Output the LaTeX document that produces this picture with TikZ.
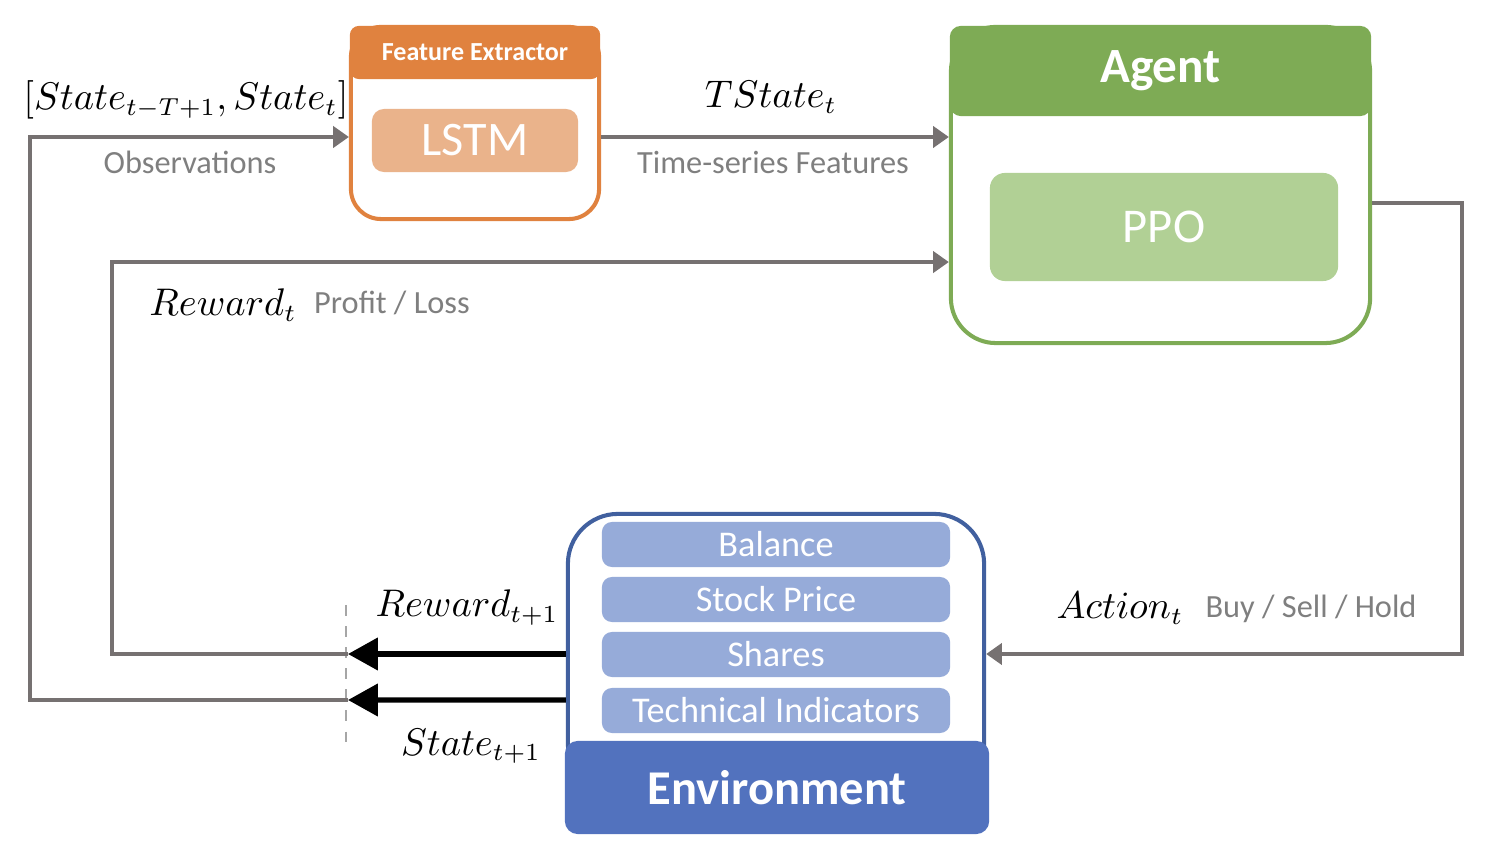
\documentclass[tikz,border=0pt]{standalone}
\usepackage{fontspec}
\setmainfont{Carlito}
\usetikzlibrary{arrows.meta}
\definecolor{feor}{HTML}{E0823F}
\definecolor{lstmc}{HTML}{EAB38B}
\definecolor{agg}{HTML}{7EAB55}
\definecolor{ppoc}{HTML}{B1D095}
\definecolor{envb}{HTML}{5272BE}
\definecolor{envd}{HTML}{41609F}
\definecolor{itemc}{HTML}{96ABD9}
\definecolor{linec}{HTML}{767171}
\definecolor{txtg}{HTML}{7F7F7F}
\begin{document}
\begin{tikzpicture}[x=0.01cm,y=-0.01cm,
  container/.style={draw, line width=1.15pt, fill=white, inner sep=0pt},
  headbox/.style={fill=#1, draw=#1, line width=0.6pt, inner sep=0pt, text=white, font=\bfseries},
  innerbox/.style={fill=#1, inner sep=0pt, text=white},
  garrow/.style={draw=linec, line width=1.15pt, -{Triangle[length=4.5pt,width=6pt]}},
  barrow/.style={draw=black, line width=1.5pt, -{Triangle[length=8.5pt,width=9pt]}},
  glbl/.style={anchor=base, inner sep=0pt, text=txtg, font=\fontsize{9.2}{11}\selectfont},
  mlbl/.style={anchor=base, inner sep=0pt, font=\fontsize{10.6}{13}\selectfont},
  itembox/.style={innerbox=itemc, minimum width=3.48cm, minimum height=0.45cm, rounded corners=1mm, font=\fontsize{10.3}{12}\selectfont}
]
\useasboundingbox (0,0) rectangle (1498,862);

% Feature extractor
\node[container, draw=feor, minimum width=2.48cm, minimum height=1.92cm, rounded corners=3mm] (febox) at (475,123) {};
\node[headbox=feor, minimum width=2.48cm, minimum height=0.51cm, rounded corners=0.8mm, font=\bfseries\fontsize{7.4}{9}\selectfont] (fehead) at (475,52.5) {Feature Extractor};
\node[innerbox=lstmc, minimum width=2.06cm, minimum height=0.63cm, rounded corners=1.2mm, font=\fontsize{13.7}{16}\selectfont] (lstm) at (475,140.5) {LSTM};

% Agent
\node[container, draw=agg, minimum width=4.19cm, minimum height=3.16cm, rounded corners=4.5mm] (agbox) at (1160.5,185) {};
\node[headbox=agg, minimum width=4.19cm, minimum height=0.88cm, rounded corners=1mm, font=\bfseries\fontsize{14}{16}\selectfont] (aghead) at (1160.5,71) {Agent};
\node[innerbox=ppoc, minimum width=3.48cm, minimum height=1.08cm, rounded corners=1.5mm, font=\fontsize{13.8}{16}\selectfont] (ppo) at (1164,227) {PPO};

% Environment
\node[container, draw=envd, minimum width=4.16cm, minimum height=2.8cm, rounded corners=5mm] (envbox) at (776,654) {};
\node[itembox] (bal) at (776,544.5) {Balance};
\node[itembox] (stock) at (776,599.5) {Stock Price};
\node[itembox] (shares) at (776,654.5) {Shares};
\node[itembox] (tech) at (776,710.5) {Technical Indicators};
\node[headbox=envb, minimum width=4.22cm, minimum height=0.91cm, rounded corners=1.2mm, font=\bfseries\fontsize{13.8}{16}\selectfont] (envlabel) at (777,787.5) {Environment};

% junctions and dashed line
\coordinate (jR) at (348,654);
\coordinate (jS) at (348,700);
\coordinate (dtop) at (346,605);
\coordinate (dbot) at (346,748);
\draw[dashed, draw=gray!70, line width=0.8pt] (dtop) -- (dbot);

% connectors
\draw[garrow] (jS) -| (30,400) |- ([yshift=-0.14cm]febox.west);
\draw[garrow] ([yshift=-0.14cm]febox.east) -- ([yshift=-0.14cm]febox.east -| agbox.west);
\draw[garrow] (jR) -| (112,400) |- ([yshift=-0.77cm]agbox.west);
\draw[garrow] ([yshift=-0.18cm]agbox.east) -| (1462,400) |- (envbox.east);
\draw[barrow] (envbox.west) -- (jR);
\draw[barrow] ([yshift=-0.46cm]envbox.west) -- (jS);

% labels
\node[mlbl] (l1) at (186,110) {$[State_{t-T+1}, State_t]$};
\node[glbl] (l2) at (190,174) {Observations};
\node[mlbl] (l3) at (771,108) {$TState_t$};
\node[glbl] (l4) at (773,174) {Time-series Features};
\node[mlbl] (l5) at (223,316) {$Reward_t$};
\node[glbl] (l6) at (392,314) {Profit / Loss};
\node[mlbl] (l7) at (467,617) {$Reward_{t+1}$};
\node[mlbl] (l8) at (471,755) {$State_{t+1}$};
\node[mlbl] (l9) at (1120,619) {$Action_t$};
\node[glbl] (l10) at (1311,618) {Buy / Sell / Hold};
\end{tikzpicture}
\end{document}
